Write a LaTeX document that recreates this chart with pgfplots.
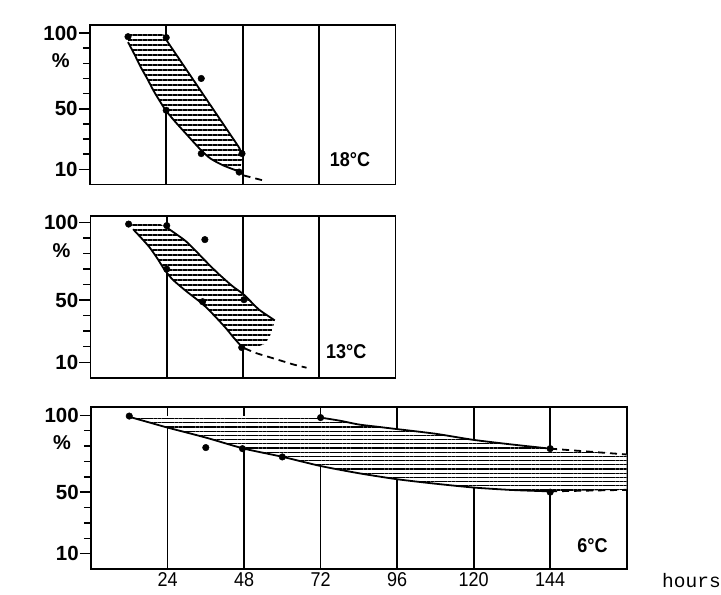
\documentclass[border=0pt]{standalone}
\usepackage{fontspec}
\setmainfont{Liberation Sans}
\newfontfamily\monofont{Liberation Mono}
\newfontfamily\condfont[FakeStretch=0.9]{Liberation Sans}
\usepackage{pgfplots}
\usepackage{pgfplotstable}
\pgfplotsset{compat=1.18}
\usetikzlibrary{patterns.meta}

% ---------- 18 C ----------
\pgfplotstableread{
x y
12 99.5
23 99.5
24 95.5
30 77
36 58.5
42 40
46.7 25
48 20
47.5 13
47 8.5
42 12.5
38 17
35 22.5
30 34
27 41
24 48.5
22 55
20 62
18 70
16 77.5
14 86
12 94
}\bandA
\pgfplotstableread{
x y
24 95.5
46.7 25
48 20
}\upA
\pgfplotstableread{
x y
12 94
14 86
16 77.5
18 70
20 62
22 55
24 48.5
27 41
30 34
35 22.5
38 17
42 12.5
47 8.5
}\loA
\pgfplotstableread{
x y
48.3 6
54.6 2.6
}\dashA
\pgfplotstableread{
x y
12 97.6
24 97
35 70
24 49
35 20.4
47.8 20.4
46.9 8.2
}\dotsA

% ---------- 13 C ----------
\pgfplotstableread{
x y
12 99
22 99
24 96.8
27 92.5
30 88
33 82
36.3 75
40 67.5
44.7 59
48.3 53.5
53 44
58 37
57.5 33
56.5 27
55 22
52 19.5
48 19.5
47.6 20
45 26
42.6 32
39 40
35.3 47.5
30 56
26 63
23.5 69
21 77
18.6 84
16 90
13.4 95.7
12 98
}\bandB
\pgfplotstableread{
x y
24 96.8
27 92.5
30 88
33 82
36.3 75
40 67.5
44.7 59
48.3 53.5
53 44
58 37
}\upB
\pgfplotstableread{
x y
13.4 95.7
16 90
18.6 84
21 77
23.5 69
26 63
30 56
35.3 47.5
39 40
42.6 32
45 26
47.6 20
}\loB
\pgfplotstableread{
x y
48.5 19
52 16
56 13.5
60 11
64 8.5
68 6.5
}\dashB
\pgfplotstableread{
x y
12 99
24 98
36 89
24 70
35.3 49
48.3 50.3
47.6 19.5
}\dotsB

% ---------- 6 C ----------
\pgfplotstableread{
x y
12 99.5
72 99.5
72 98.5
78 96.5
84 94
90 92.5
96 91
108 88
120 84
132 81
144 78.3
168 74.5
168 51.5
144 50.5
132 51.4
120 53
108 55.5
96 58.4
84 62.3
72 67
60 73
48 78.3
36 85.5
24 92
18 95.5
12 99
}\bandC
\pgfplotstableread{
x y
72 98.5
78 96.5
84 94
90 92.5
96 91
108 88
120 84
132 81
144 78.3
}\upC
\pgfplotstableread{
x y
12 99
18 95.5
24 92
36 85.5
48 78.3
60 73
72 67
84 62.3
96 58.4
108 55.5
120 53
132 51.4
144 50.5
}\loC
\pgfplotstableread{
x y
144 78.3
168 74.5
}\dashCu
\pgfplotstableread{
x y
144 50.5
168 51.5
}\dashCl
\pgfplotstableread{
x y
12 99.5
36 79
47.5 78.3
60 72.9
72 98.5
144 78.3
144 50
}\dotsC

\pgfplotsset{
  panel/.style={
    scale only axis, anchor=south west, clip=false,
    xmin=0, ymin=0,
    axis line style={line width=1.8pt},
    ytick={10,50,100}, yticklabels={10,50,100},
    minor ytick={20,30,40,60,70,80,90},
    ytick pos=left, tick align=outside,
    major tick length=11pt, minor tick length=7pt,
    every tick/.style={black, line width=1.5pt},
    xtick style={draw=none},
    xmajorgrids, major grid style={black, line width=1.8pt},
    xticklabel style={font=\condfont\fontsize{20}{20}\selectfont, inner sep=1pt, yshift=8.5pt},
    yticklabel style={font=\bfseries\fontsize{20.5}{20.5}\selectfont, inner sep=1pt},
  },
  bandfill/.style={draw=none, fill=white},
  hatch/.style={draw=none, pattern={Lines[angle=0,distance=#1,line width=1.2pt]}},
  edge/.style={line width=1.8pt, black, smooth, tension=0.4},
  dsh/.style={line width=1.8pt, black, smooth, dash pattern=on 7pt off 5pt},
  pts/.style={only marks, mark=*, mark size=3.3pt, black},
}
\tikzset{tlab/.style={font=\condfont\bfseries\fontsize{20}{20}\selectfont},
  pct/.style={font=\bfseries\fontsize{20}{20}\selectfont, anchor=east, inner sep=0pt}}

\begin{document}
\begin{tikzpicture}
\useasboundingbox (0,0) rectangle (721pt,595pt);

% 18 C
\begin{axis}[panel, at={(89.8pt,410.5pt)}, width=305.7pt, height=159.5pt,
  xmax=96, ymax=105.3, xtick={24,48,72}, xticklabels={}]
\addplot[bandfill] table {\bandA};
\addplot[hatch=5pt] table {\bandA};
\addplot[line width=1.8pt, black] table {\upA};
\addplot[edge] table {\loA};
\addplot[dsh] table {\dashA};
\addplot[pts] table {\dotsA};
\node[tlab] at (axis cs:81.7,16.3) {18°C};
\node[pct] at (axis cs:0,82) [xshift=-20pt] {\%};
\end{axis}

% 13 C
\begin{axis}[panel, at={(90.5pt,217.2pt)}, width=305pt, height=161.8pt,
  xmax=96, ymax=104.2, xtick={24,48,72}, xticklabels={}]
\addplot[bandfill] table {\bandB};
\addplot[hatch=5pt] table {\bandB};
\addplot[edge] table {\upB};
\addplot[edge] table {\loB};
\addplot[dsh] table {\dashB};
\addplot[pts] table {\dotsB};
\node[tlab] at (axis cs:80.5,16.8) {13°C};
\node[pct] at (axis cs:0,82) [xshift=-20pt] {\%};
\end{axis}

% 6 C
\begin{axis}[panel, at={(91pt,26pt)}, width=535.7pt, height=161.7pt,
  xmax=168, ymax=105.2, xtick={24,48,72,96,120,144},
  xticklabels={24,48,72,96,120,144}]
\addplot[bandfill] table {\bandC};
\addplot[hatch=4.2pt] table {\bandC};
\addplot[edge] table {\upC};
\addplot[edge] table {\loC};
\addplot[dsh] table {\dashCu};
\addplot[dsh] table {\dashCl};
\addplot[pts] table {\dotsC};
\node[tlab] at (axis cs:157.3,15) {6°C};
\node[pct] at (axis cs:0,82) [xshift=-20pt] {\%};
\end{axis}

\node[anchor=base west, inner sep=0] at (662pt,7pt) {\monofont\fontsize{19.5}{19.5}\selectfont hours};
\end{tikzpicture}
\end{document}
